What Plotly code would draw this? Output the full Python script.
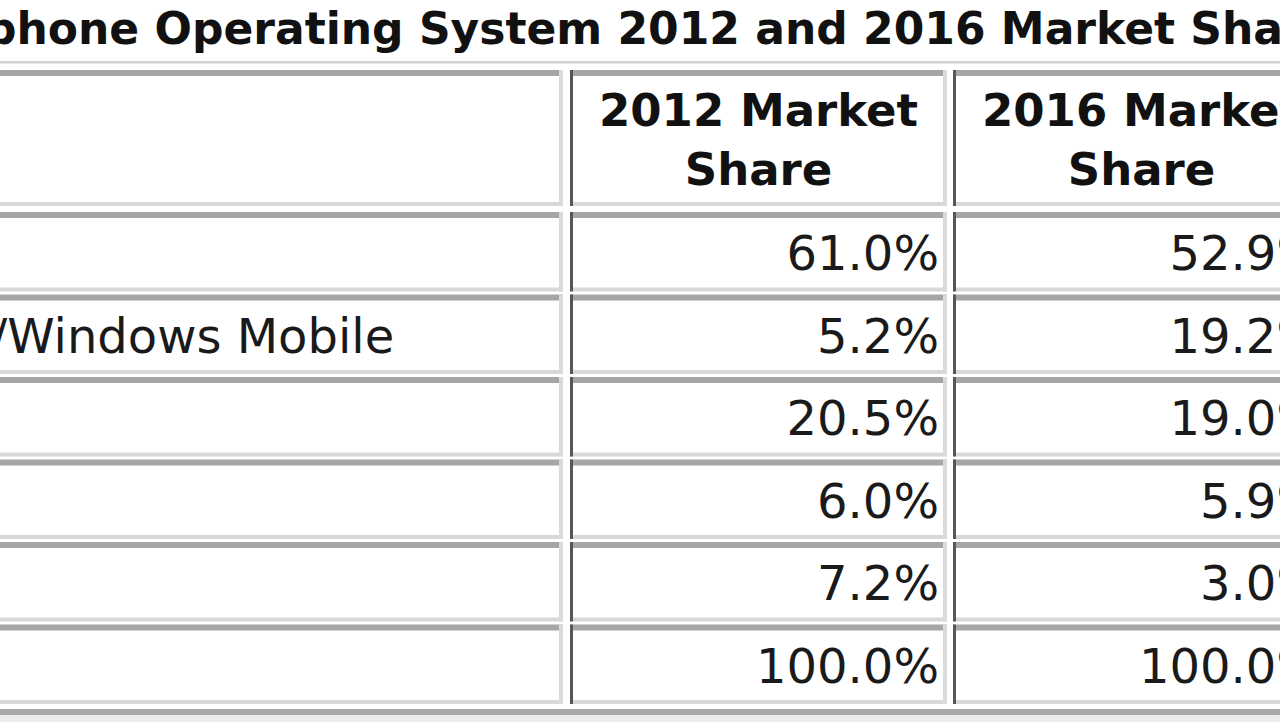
import plotly.graph_objects as go

# table content
title = "Smartphone Operating System 2012 and 2016 Market Share"
headers = ["", "2012 Market<br>Share", "2016 Market<br>Share"]
os_names = ["Android", "Windows Phone 7/Windows Mobile", "iOS", "BlackBerry OS", "Others", "Total"]
share_2012 = ["61.0%", "5.2%", "20.5%", "6.0%", "7.2%", "100.0%"]
share_2016 = ["52.9%", "19.2%", "19.0%", "5.9%", "3.0%", "100.0%"]

# layout of the (cropped) html table, in screen pixels
W, H = 1280, 722
col_left = [-470, 570, 953]
col_right = [563, 947, 1330]
head_top, head_bottom = 70, 206
body_top, row_pitch, row_h = 212, 82.5, 79.5
FONT = "DejaVu Sans"

row_tops = [head_top] + [body_top + i * row_pitch for i in range(len(os_names))]
row_bottoms = [head_bottom] + [t + row_h for t in row_tops[1:]]

fig = go.Figure()

shapes = []
def band(x0, y0, x1, y1, color):
    shapes.append(dict(type="rect", xref="x", yref="y", x0=x0, x1=x1, y0=y0, y1=y1,
                       fillcolor=color, line=dict(width=0), layer="below"))

# outer table border
band(col_left[0] - 10, 61, col_right[-1] + 10, 63.5, "#d2d2d2")
band(col_left[0] - 10, row_bottoms[-1] + 5, col_right[-1] + 10, row_bottoms[-1] + 11, "#a9a9a9")
band(col_left[0] - 10, row_bottoms[-1] + 11, col_right[-1] + 10, H, "#ececec")

# inset cell borders
for t, b in zip(row_tops, row_bottoms):
    for l, r in zip(col_left, col_right):
        band(l, t, r, t + 6, "#a6a6a6")
        band(l, b - 4, r, b, "#d8d8d8")
        band(r - 4, t, r, b, "#dadada")
        band(l, t, l + 3, b, "#565656")

# title
fig.add_trace(go.Scatter(x=[-165], y=[33], text=[title], mode="text", textposition="middle right",
                         textfont=dict(family=FONT, size=44, color="#111111", weight="bold"),
                         hoverinfo="skip"))

# header cells
head_cx = [(l + r) / 2 for l, r in zip(col_left, col_right)]
fig.add_trace(go.Scatter(x=head_cx[1:], y=[144, 144], text=headers[1:], mode="text",
                         textposition="middle center",
                         textfont=dict(family=FONT, size=45, color="#111111", weight="bold"),
                         hoverinfo="skip"))

# body cells
body_cy = [t + 46 for t in row_tops[1:]]
fig.add_trace(go.Scatter(x=[-433] * len(os_names), y=body_cy, text=os_names, mode="text",
                         textposition="middle right",
                         textfont=dict(family=FONT, size=48, color="#1a1a1a"), hoverinfo="skip"))
fig.add_trace(go.Scatter(x=[col_right[1] - 8] * len(share_2012), y=body_cy, text=share_2012, mode="text",
                         textposition="middle left",
                         textfont=dict(family=FONT, size=48, color="#1a1a1a"), hoverinfo="skip"))
fig.add_trace(go.Scatter(x=[col_right[2] - 8] * len(share_2016), y=body_cy, text=share_2016, mode="text",
                         textposition="middle left",
                         textfont=dict(family=FONT, size=48, color="#1a1a1a"), hoverinfo="skip"))

fig.update_xaxes(range=[0, W], visible=False, fixedrange=True)
fig.update_yaxes(range=[H, 0], visible=False, fixedrange=True)
fig.update_layout(
    width=W, height=H,
    margin=dict(l=0, r=0, t=0, b=0),
    showlegend=False,
    shapes=shapes,
    paper_bgcolor="white",
    plot_bgcolor="white",
)

fig.write_html("out.html", config=dict(displayModeBar=False),
               post_script="document.body.style.margin='0';document.body.style.overflow='hidden';")
